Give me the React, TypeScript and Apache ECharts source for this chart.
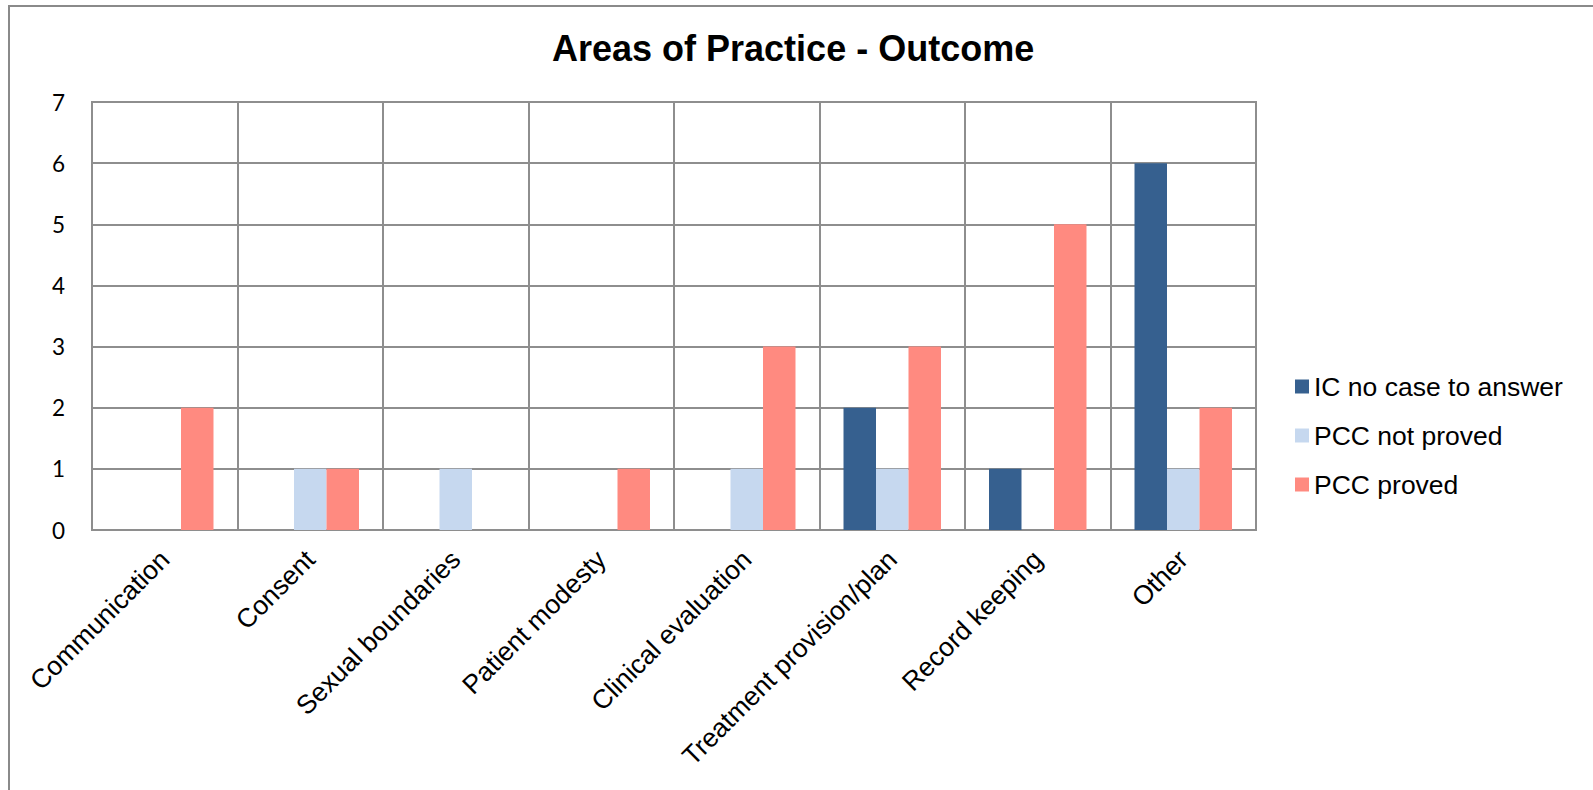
import React, { useEffect, useRef } from "react";
import * as echarts from "echarts";

const categories = [
  "Communication",
  "Consent",
  "Sexual boundaries",
  "Patient modesty",
  "Clinical evaluation",
  "Treatment provision/plan",
  "Record keeping",
  "Other",
];

const icNoCase = [0, 0, 0, 0, 0, 2, 1, 6];
const pccNotProved = [0, 1, 1, 0, 1, 1, 0, 1];
const pccProved = [2, 1, 0, 1, 3, 3, 5, 2];

const seriesNames = ["IC no case to answer", "PCC not proved", "PCC proved"];
const seriesColors = ["#36608f", "#c6d8ef", "#ff8a80"];

const yTicks = { min: 0, max: 7, interval: 1 };

export default function App() {
  const ref = useRef<HTMLDivElement>(null);

  useEffect(() => {
    if (!ref.current) return;
    const chart = echarts.init(ref.current, null, { renderer: "svg" });
    const gridColor = "#8e8e8e";
    const values = [icNoCase, pccNotProved, pccProved];

    chart.setOption({
      animation: false,
      backgroundColor: "#ffffff",
      title: {
        text: "Areas of Practice - Outcome",
        left: 552,
        top: 30,
        padding: 0,
        textStyle: {
          fontFamily: "Liberation Sans, Arial, sans-serif",
          fontSize: 36,
          fontWeight: "bold",
          color: "#000000",
        },
      },
      graphic: [
        {
          type: "rect",
          shape: { x: 9, y: 6, width: 1620, height: 820 },
          style: { fill: "none", stroke: "#8a8a8a", lineWidth: 2 },
          silent: true,
        },
      ],
      legend: {
        orient: "vertical",
        left: 1295,
        top: 373,
        padding: 0,
        itemWidth: 14,
        itemHeight: 14,
        itemGap: 22,
        icon: "rect",
        data: seriesNames,
        textStyle: {
          fontFamily: "Liberation Sans, Arial, sans-serif",
          fontSize: 26.5,
          color: "#000000",
        },
      },
      grid: {
        left: 92,
        top: 102,
        width: 1164,
        height: 428,
        show: true,
        borderColor: gridColor,
        borderWidth: 2,
        containLabel: false,
      },
      xAxis: {
        type: "category",
        data: categories,
        boundaryGap: true,
        axisLine: { show: true, lineStyle: { color: gridColor, width: 2 } },
        axisTick: { show: false },
        splitLine: { show: true, lineStyle: { color: gridColor, width: 2 } },
        axisLabel: {
          interval: 0,
          rotate: 45,
          margin: 25,
          fontFamily: "Liberation Sans, Arial, sans-serif",
          fontSize: 26.5,
          color: "#000000",
        },
      },
      yAxis: {
        type: "value",
        min: yTicks.min,
        max: yTicks.max,
        interval: yTicks.interval,
        axisLine: { show: true, lineStyle: { color: gridColor, width: 2 } },
        axisTick: { show: false },
        splitLine: { show: true, lineStyle: { color: gridColor, width: 2 } },
        axisLabel: {
          margin: 27,
          fontFamily: "Lato, Carlito, sans-serif",
          fontSize: 22.5,
          color: "#000000",
        },
      },
      series: seriesNames.map((name, i) => ({
        name,
        type: "bar",
        data: values[i],
        barGap: "0%",
        barCategoryGap: "33%",
        itemStyle: { color: seriesColors[i] },
      })),
    });

    return () => chart.dispose();
  }, []);

  return (
    <div
      ref={ref}
      style={{
        position: "fixed",
        left: 0,
        top: 0,
        width: 1593,
        height: 790,
        background: "#ffffff",
      }}
    />
  );
}
